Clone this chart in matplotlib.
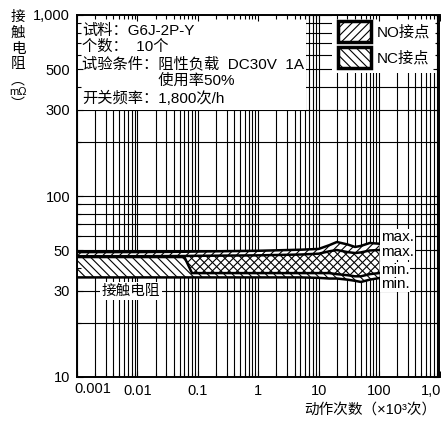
import matplotlib
matplotlib.use("Agg")
import matplotlib.pyplot as plt
from matplotlib.patches import Patch, Rectangle

plt.rcParams['font.family'] = ['Liberation Sans', 'Noto Sans CJK SC', 'DejaVu Sans']
plt.rcParams['hatch.linewidth'] = 0.8

# operations (x10^3) and contact resistance (mOhm)
ops = [0.001, 0.01, 0.06, 0.08, 1, 5, 10, 15, 20, 30, 40, 50, 70, 100]
no_max = [49, 49, 49.2, 49.3, 49.8, 50.5, 51, 53.5, 55.7, 54, 52.3, 53, 55, 54.5]
no_min = [46, 46, 46, 37.5, 37.5, 37.5, 37.5, 37.5, 37, 36.5, 36, 36, 37, 37.5]
nc_max = [46.5, 46.5, 46.6, 46.7, 47, 47.5, 48, 49.5, 50.3, 49, 48.4, 48.8, 50, 50.3]
nc_min = [35.5, 35.5, 35.5, 35.5, 35.5, 35.5, 35.3, 35, 35, 34.5, 34, 33.5, 34.5, 35.2]

x_ticks = [0.001, 0.01, 0.1, 1, 10, 100, 1000]
x_labels = ['', '0.01', '0.1', '1', '10', '100', '1,000']
y_ticks = [10, 30, 50, 100, 300, 500, 1000]
y_labels = ['10', '30', '50', '100', '300', '500', '1,000']

end_labels = ['max.', 'max.', 'min.', 'min.']
end_label_y = [59.5, 49, 39, 32.6]

info_lines = ['试料：G6J-2P-Y', '个数：  10个', '试验条件：阻性负载  DC30V  1A',
              '　　　　　使用率50%', '开关频率：1,800次/h']

W, H = 441, 430


def px(x):
    return x / W


def py(y):
    return 1 - y / H


fig = plt.figure(figsize=(W / 100, H / 100), dpi=100)
pos = [px(77), py(377), px(439.5 - 77), (377 - 15) / H]
ax = fig.add_axes(pos)
ax.set_xscale('log')
ax.set_yscale('log')
ax.set_xlim(0.001, 1000)
ax.set_ylim(10, 1000)
ax.set_axisbelow(True)
ax.grid(which='both', color='black', lw=0.8)

ax.set_xticks(x_ticks, x_labels)
ax.set_yticks(y_ticks, y_labels)
ax.yaxis.set_minor_formatter(plt.NullFormatter())
ax.xaxis.set_minor_formatter(plt.NullFormatter())
ax.tick_params(which='both', length=0, labelsize=10.5)
ax.tick_params(axis='x', pad=5)
ax.tick_params(axis='y', pad=5)
ax.annotate('0.001', xy=(0.001, 0), xycoords=('data', 'axes fraction'),
            xytext=(16, -5), textcoords='offset pixels', ha='center', va='top',
            fontsize=10.5)
for s in ax.spines.values():
    s.set_linewidth(1.2)

# white info box in the upper left
ax.add_patch(Rectangle((0.001, 300), 6.2 - 0.001, 700, facecolor='white',
                       edgecolor='none', zorder=1))
line_y = [31, 47, 64, 81, 98]
for t, y in zip(info_lines, line_y):
    fig.text(px(82), py(y), t, fontsize=11, va='center', ha='left')

# bands
lo = [min(a, b) for a, b in zip(no_min, nc_min)]
hi = [max(a, b) for a, b in zip(no_max, nc_max)]
ax.fill_between(ops, lo, hi, color='white', lw=0, zorder=2)
ax.fill_between(ops, no_min, no_max, facecolor='none', edgecolor='black',
                hatch='////', lw=0, zorder=3)
ax.fill_between(ops, nc_min, nc_max, facecolor='none', edgecolor='black',
                hatch='\\\\\\\\', lw=0, zorder=3)
for s in [no_max, no_min, nc_max, nc_min]:
    ax.plot(ops, s, color='black', lw=1.8, zorder=4)

for t, y in zip(end_labels, end_label_y):
    ax.annotate(t, xy=(100, y), xytext=(2, 0), textcoords='offset pixels',
                ha='left', va='center', fontsize=11, zorder=5,
                bbox=dict(facecolor='white', edgecolor='none', pad=0.5))

ax.text(0.0078, 30, '接触电阻', ha='center', va='center', fontsize=10.5, zorder=5,
        bbox=dict(facecolor='white', edgecolor='none', pad=1.5))

handles = [Patch(facecolor='white', edgecolor='black', hatch='////', lw=2.5),
           Patch(facecolor='white', edgecolor='black', hatch='\\\\\\\\', lw=2.5)]
leg = ax.legend(handles, ['NO接点', 'NC接点'], loc='upper right',
                bbox_to_anchor=(1 - 4 / 362.5, 1 - 1 / 362), borderaxespad=0,
                fontsize=11, handlelength=2.2, handleheight=1.7,
                handletextpad=0.35, labelspacing=0.35, borderpad=0.35,
                frameon=True, fancybox=False, framealpha=1, edgecolor='none')
leg.set_zorder(6)

# tick marks drawn above boxes
axt = fig.add_axes(pos, sharex=ax, sharey=ax)
axt.patch.set_visible(False)
axt.set_zorder(10)
axt.tick_params(which='both', direction='in', top=True, right=True,
                labelbottom=False, labelleft=False)
axt.tick_params(which='major', length=4, width=0.8)
axt.tick_params(which='minor', length=3, width=0.8)
for s in axt.spines.values():
    s.set_linewidth(1.2)

# y axis label (vertical)
for ch, y in zip(['接', '触', '电', '阻'], [17, 33, 49, 64]):
    fig.text(px(18), py(y), ch, fontsize=10.5, ha='center', va='center')
fig.text(px(18), py(80), '︵', fontsize=10, ha='center', va='center',
         family=['Noto Sans CJK SC'])
fig.text(px(18), py(92), 'mΩ', fontsize=8, ha='center', va='center')
fig.text(px(18), py(104), '︶', fontsize=10, ha='center', va='center',
         family=['Noto Sans CJK SC'])

fig.text(px(436), py(410), '动作次数（×10³次）', fontsize=10.5, ha='right', va='center')

fig.savefig('out.png', dpi=100)
